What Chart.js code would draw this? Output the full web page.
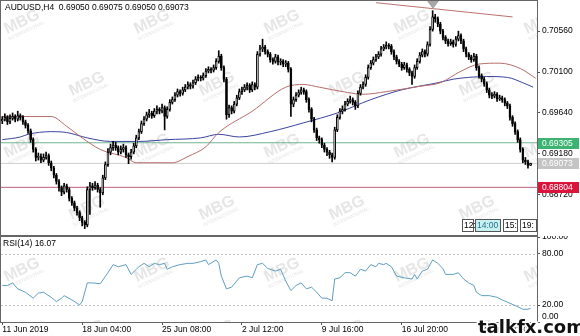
<!DOCTYPE html>
<html>
<head>
<meta charset="utf-8">
<script src="https://cdn.jsdelivr.net/npm/chart.js@4.4.0/dist/chart.umd.min.js"></script>
<style>
  html, body { margin: 0; padding: 0; background: #fff; }
  #wrap { position: relative; width: 580px; height: 336px; overflow: hidden; }
  canvas { position: absolute; left: 0; }
  #main { top: 0; }
  #rsi { top: 236px; }
</style>
</head>
<body>
<div id="wrap">
  <canvas id="main" width="580" height="236"></canvas>
  <canvas id="rsi" width="580" height="100"></canvas>
</div>
<script>
// AUDUSD H4 candles (bar 0 = 11 Jun 2019 00:00)
const symbol = "AUDUSD,H4";

const opens = [
  0.6955,0.6957,0.6959,0.6954,0.6958,0.6960,0.6957,0.6961,0.6959,0.6954,
  0.6950,0.6944,0.6934,0.6923,0.6914,0.6915,0.6911,0.6914,0.6916,0.6908,
  0.6902,0.6894,0.6887,0.6880,0.6875,0.6882,0.6878,0.6868,0.6863,0.6857,
  0.6852,0.6846,0.6841,0.6838,0.6878,0.6882,0.6880,0.6883,0.6878,0.6874,
  0.6891,0.6906,0.6920,0.6925,0.6928,0.6925,0.6920,0.6923,0.6925,0.6917,
  0.6915,0.6920,0.6927,0.6936,0.6943,0.6952,0.6957,0.6962,0.6964,0.6961,
  0.6966,0.6968,0.6966,0.6970,0.6960,0.6968,0.6976,0.6979,0.6984,0.6988,
  0.6986,0.6990,0.6993,0.6996,0.6994,0.6998,0.7002,0.7004,0.7003,0.7006,
  0.7011,0.7013,0.7012,0.7015,0.7022,0.7028,0.7015,0.7002,0.6962,0.6970,
  0.6966,0.6974,0.6981,0.6988,0.6990,0.6993,0.6995,0.6990,0.6996,0.6993,
  0.7030,0.7036,0.7038,0.7033,0.7030,0.7024,0.7022,0.7027,0.7021,0.7022,
  0.7019,0.7020,0.7013,0.6974,0.6979,0.6984,0.6987,0.6990,0.6988,0.6979,
  0.6968,0.6957,0.6945,0.6936,0.6934,0.6928,0.6923,0.6920,0.6917,0.6914,
  0.6945,0.6959,0.6966,0.6968,0.6974,0.6977,0.6979,0.6976,0.6972,0.6986,
  0.6993,0.6996,0.7004,0.7015,0.7020,0.7024,0.7027,0.7030,0.7036,0.7038,
  0.7040,0.7039,0.7033,0.7027,0.7022,0.7019,0.7015,0.7018,0.7013,0.7009,
  0.7005,0.7015,0.7022,0.7029,0.7033,0.7030,0.7041,0.7058,0.7072,0.7070,
  0.7064,0.7056,0.7049,0.7045,0.7042,0.7044,0.7041,0.7047,0.7051,0.7045,
  0.7036,0.7030,0.7027,0.7024,0.7028,0.7015,0.7006,0.7002,0.6997,0.6990,
  0.6984,0.6983,0.6985,0.6980,0.6981,0.6979,0.6975,0.6972,0.6959,0.6952,
  0.6943,0.6934,0.6923,0.6911,0.6909,0.69050
];
const highs = [
  0.6960,0.6963,0.6961,0.6962,0.6964,0.6962,0.6966,0.6963,0.6961,0.6956,
  0.6952,0.6946,0.6936,0.6925,0.6919,0.6918,0.6918,0.6920,0.6918,0.6910,
  0.6904,0.6896,0.6889,0.6882,0.6885,0.6884,0.6880,0.6870,0.6865,0.6859,
  0.6854,0.6848,0.6843,0.6881,0.6886,0.6885,0.6887,0.6885,0.6880,0.6894,
  0.6909,0.6924,0.6929,0.6932,0.6931,0.6927,0.6927,0.6929,0.6927,0.6919,
  0.6923,0.6930,0.6939,0.6946,0.6955,0.6960,0.6965,0.6968,0.6966,0.6969,
  0.6972,0.6970,0.6974,0.6972,0.6971,0.6979,0.6982,0.6987,0.6991,0.6990,
  0.6993,0.6996,0.6999,0.6998,0.7001,0.7005,0.7007,0.7006,0.7009,0.7014,
  0.7016,0.7015,0.7018,0.7025,0.7034,0.7030,0.7017,0.7004,0.6973,0.6972,
  0.6977,0.6984,0.6991,0.6993,0.6996,0.6998,0.6997,0.6999,0.6998,0.7033,
  0.7040,0.7047,0.7040,0.7035,0.7032,0.7026,0.7030,0.7029,0.7025,0.7024,
  0.7023,0.7022,0.7015,0.6982,0.6987,0.6990,0.6993,0.6992,0.6990,0.6981,
  0.6970,0.6959,0.6947,0.6938,0.6936,0.6930,0.6925,0.6922,0.6919,0.6948,
  0.6962,0.6969,0.6972,0.6977,0.6980,0.6983,0.6981,0.6978,0.6989,0.6996,
  0.6999,0.7007,0.7018,0.7023,0.7027,0.7030,0.7033,0.7039,0.7041,0.7044,
  0.7042,0.7041,0.7035,0.7029,0.7024,0.7021,0.7021,0.7020,0.7015,0.7011,
  0.7018,0.7025,0.7032,0.7036,0.7035,0.7044,0.7061,0.7079,0.7075,0.7072,
  0.7066,0.7058,0.7051,0.7047,0.7047,0.7046,0.7050,0.7056,0.7053,0.7047,
  0.7038,0.7032,0.7029,0.7031,0.7030,0.7017,0.7008,0.7004,0.6999,0.6992,
  0.6987,0.6988,0.6987,0.6984,0.6983,0.6981,0.6977,0.6974,0.6961,0.6954,
  0.6945,0.6936,0.6925,0.6914,0.6911,0.69075
];
const lows = [
  0.6952,0.6955,0.6951,0.6952,0.6956,0.6954,0.6955,0.6956,0.6951,0.6947,
  0.6941,0.6931,0.6920,0.6910,0.6911,0.6908,0.6909,0.6912,0.6905,0.6899,
  0.6891,0.6884,0.6876,0.6871,0.6873,0.6875,0.6865,0.6860,0.6854,0.6849,
  0.6843,0.6837,0.6834,0.6836,0.6850,0.6877,0.6878,0.6875,0.6858,0.6872,
  0.6889,0.6904,0.6917,0.6922,0.6922,0.6917,0.6918,0.6920,0.6914,0.6907,
  0.6912,0.6918,0.6925,0.6934,0.6941,0.6950,0.6955,0.6959,0.6958,0.6959,
  0.6963,0.6963,0.6964,0.6945,0.6958,0.6966,0.6974,0.6977,0.6982,0.6983,
  0.6984,0.6988,0.6991,0.6991,0.6992,0.6996,0.7000,0.7000,0.7001,0.7004,
  0.7009,0.7009,0.7010,0.7013,0.7020,0.7012,0.6999,0.6957,0.6959,0.6963,
  0.6964,0.6972,0.6979,0.6985,0.6988,0.6990,0.6987,0.6988,0.6990,0.6991,
  0.7028,0.7033,0.7030,0.7027,0.7021,0.7019,0.7020,0.7018,0.7018,0.7016,
  0.7016,0.7010,0.6960,0.6971,0.6977,0.6982,0.6985,0.6985,0.6976,0.6965,
  0.6954,0.6942,0.6933,0.6930,0.6925,0.6920,0.6916,0.6913,0.6909,0.6912,
  0.6943,0.6957,0.6963,0.6966,0.6972,0.6975,0.6973,0.6968,0.6970,0.6984,
  0.6991,0.6994,0.7002,0.7013,0.7018,0.7022,0.7025,0.7028,0.7034,0.7036,
  0.7036,0.7030,0.7024,0.7019,0.7016,0.7012,0.7013,0.7010,0.7006,0.6996,
  0.7003,0.7013,0.7020,0.7027,0.7027,0.7028,0.7039,0.7056,0.7066,0.7061,
  0.7053,0.7046,0.7042,0.7039,0.7040,0.7038,0.7039,0.7045,0.7042,0.7033,
  0.7027,0.7024,0.7021,0.7022,0.7012,0.7003,0.6999,0.6994,0.6987,0.6981,
  0.6980,0.6981,0.6977,0.6978,0.6976,0.6972,0.6969,0.6956,0.6949,0.6940,
  0.6931,0.6920,0.6908,0.6906,0.6902,0.69050
];
const closes = [
  0.6957,0.6959,0.6954,0.6958,0.6960,0.6957,0.6961,0.6959,0.6954,0.6950,
  0.6944,0.6934,0.6923,0.6914,0.6915,0.6911,0.6914,0.6916,0.6908,0.6902,
  0.6894,0.6887,0.6880,0.6875,0.6882,0.6878,0.6868,0.6863,0.6857,0.6852,
  0.6846,0.6841,0.6838,0.6878,0.6882,0.6880,0.6883,0.6878,0.6874,0.6891,
  0.6906,0.6920,0.6925,0.6928,0.6925,0.6920,0.6923,0.6925,0.6917,0.6915,
  0.6920,0.6927,0.6936,0.6943,0.6952,0.6957,0.6962,0.6964,0.6961,0.6966,
  0.6968,0.6966,0.6970,0.6960,0.6968,0.6976,0.6979,0.6984,0.6988,0.6986,
  0.6990,0.6993,0.6996,0.6994,0.6998,0.7002,0.7004,0.7003,0.7006,0.7011,
  0.7013,0.7012,0.7015,0.7022,0.7028,0.7015,0.7002,0.6962,0.6970,0.6966,
  0.6974,0.6981,0.6988,0.6990,0.6993,0.6995,0.6990,0.6996,0.6993,0.7030,
  0.7036,0.7038,0.7033,0.7030,0.7024,0.7022,0.7027,0.7021,0.7022,0.7019,
  0.7020,0.7013,0.6974,0.6979,0.6984,0.6987,0.6990,0.6988,0.6979,0.6968,
  0.6957,0.6945,0.6936,0.6934,0.6928,0.6923,0.6920,0.6917,0.6914,0.6945,
  0.6959,0.6966,0.6968,0.6974,0.6977,0.6979,0.6976,0.6972,0.6986,0.6993,
  0.6996,0.7004,0.7015,0.7020,0.7024,0.7027,0.7030,0.7036,0.7038,0.7040,
  0.7039,0.7033,0.7027,0.7022,0.7019,0.7015,0.7018,0.7013,0.7009,0.7005,
  0.7015,0.7022,0.7029,0.7033,0.7030,0.7041,0.7058,0.7072,0.7070,0.7064,
  0.7056,0.7049,0.7045,0.7042,0.7044,0.7041,0.7047,0.7051,0.7045,0.7036,
  0.7030,0.7027,0.7024,0.7028,0.7015,0.7006,0.7002,0.6997,0.6990,0.6984,
  0.6983,0.6985,0.6980,0.6981,0.6979,0.6975,0.6972,0.6959,0.6952,0.6943,
  0.6934,0.6923,0.6911,0.6909,0.6905,0.69073
];

// moving averages (sampled along the curves)
const maRedBars = [0,19,25,31,38,48,52,66,72,79,84,97,110,117,123,134,140,149,162,170,178,185,193,201,207];
const maRed = [0.6960,0.6960,0.6949,0.6936,0.6923,0.6914,0.6908,0.6908,0.6915,0.6926,0.6942,0.6966,0.6993,0.6996,0.6993,0.6987,0.6985,0.6988,0.6994,0.6998,0.7011,0.7019,0.7020,0.7014,0.7003];
const maBlueBars = [0,7,10,19,25,33,42,53,64,77,84,92,104,117,130,143,155,169,175,181,188,196,202,206];
const maBlue = [0.6934,0.6937,0.6940,0.6943,0.6942,0.6936,0.6932,0.6932,0.6934,0.6936,0.6940,0.6937,0.6943,0.6953,0.6964,0.6979,0.6990,0.6998,0.7002,0.7004,0.7005,0.7004,0.6998,0.6993];

// trendline and horizontal levels
const trendBars = [145, 198];
const trendPrices = [0.7088, 0.7072];
const levelGreen = 0.69305;
const levelRed = 0.68804;

// RSI(14)
const rsiBars = [0,2,4,6,9,12,14,16,19,21,23,24,27,30,31,33,35,38,41,43,45,48,50,52,53,55,57,59,61,63,64,66,69,72,74,77,79,80,83,84,85,87,89,92,95,97,99,101,103,106,108,110,112,114,116,118,120,122,124,126,128,129,131,133,135,137,139,141,143,145,146,148,149,151,153,156,159,160,161,163,165,167,169,171,172,175,177,179,181,183,184,186,189,192,194,197,200,202,204,205];
const rsiValues = [43,43,46,39,35,28,34,35,29,24,28,31,26,20,24,46,46,45,58,67.5,65,67.5,56,62,65,69,65,69,67.5,69,62,65,67.5,69,69,71,73,67.5,73,69,54,39,41,52,54,52,67.5,69,63,60,62,48,37,43,46,39,41,35,28,28,25,50.6,52,58,58,54,62,60,67.5,65,69,67.5,69,65,54,52,50.6,56,50.6,60,62,73,69,63,56,56,58,50.6,46,43,35,31,31,29,26,22,18,15,15,16.07];
const rsiLevels = [80, 20];

// axis ticks
const priceTicks = [0.70560, 0.70100, 0.69640, 0.69180, 0.68720];
const rsiTicks = [100, 80, 20, 0];
const timeTickBars = [0, 31, 62, 93, 124, 155, 186];
const timeTickLabels = ["11 Jun 2019", "18 Jun 04:00", "25 Jun 08:00", "2 Jul 12:00", "9 Jul 16:00", "16 Jul 20:00", "24 Jul 00:00"];

const FONT = "'Liberation Sans', Arial, sans-serif";
Chart.defaults.font.family = FONT;
Chart.defaults.font.size = 8.5;
Chart.defaults.color = "#000";

const last = closes.length - 1;
const barIdx = closes.map((c, i) => i);
const X_MIN = -0.5, X_MAX = 207.5;

function pts(xs, ys) { return xs.map((x, k) => ({ x: x, y: ys[k] })); }

// faint "MBG" watermarks
function drawMarks(ctx, area, offsetY) {
  ctx.save();
  ctx.beginPath();
  ctx.rect(area.left, area.top, area.right - area.left, area.bottom - area.top);
  ctx.clip();
  ctx.fillStyle = "#e6e6e6";
  ctx.textAlign = "center";
  ctx.textBaseline = "middle";
  for (let r = 0; r < 6; r++) {
    for (let k = 0; k < 6; k++) {
      const x = 22 + (r % 2) * 65 + k * 130;
      const y = 22 + r * 62 - offsetY;
      ctx.save();
      ctx.translate(x, y);
      ctx.rotate(-0.45);
      ctx.font = "bold 16px " + FONT;
      ctx.fillText("MBG", 0, 0);
      ctx.font = "5px " + FONT;
      ctx.fillText("INTERNATIONAL", 0, 10);
      ctx.restore();
    }
  }
  ctx.restore();
}

function frame(ctx, a) {
  ctx.save();
  ctx.strokeStyle = "#666";
  ctx.lineWidth = 1;
  ctx.strokeRect(a.left - 0.5, a.top - 0.5, a.right - a.left + 1, a.bottom - a.top + 1);
  ctx.restore();
}

const mainDecor = {
  id: "mainDecor",
  beforeDraw(chart) {
    const ctx = chart.ctx;
    ctx.save();
    ctx.fillStyle = "#fff";
    ctx.fillRect(0, 0, chart.width, chart.height);
    ctx.restore();
  },
  beforeDatasetsDraw(chart) {
    drawMarks(chart.ctx, chart.chartArea, 0);
  },
  afterDraw(chart) {
    const ctx = chart.ctx, a = chart.chartArea, ys = chart.scales.y;
    frame(ctx, a);
    ctx.save();
    // shift marker
    ctx.fillStyle = "#a8a8a8";
    ctx.beginPath();
    ctx.moveTo(427, 1); ctx.lineTo(439, 1); ctx.lineTo(433, 9); ctx.closePath();
    ctx.fill();
    // header
    ctx.fillStyle = "#000";
    ctx.font = "8.5px " + FONT;
    ctx.textAlign = "left";
    ctx.textBaseline = "middle";
    const ohlc = [opens[last], highs[last], lows[last], closes[last]].map(v => v.toFixed(5)).join(" ");
    ctx.fillText(symbol + "  " + ohlc, 5, 8);
    // price tags on the right scale
    const tags = [
      { v: levelGreen, bg: "#3cb371" },
      { v: closes[last], bg: "#c4c4c4" },
      { v: levelRed, bg: "#dc143c" }
    ];
    tags.forEach(t => {
      const y = Math.round(ys.getPixelForValue(t.v));
      ctx.fillStyle = t.bg;
      ctx.fillRect(538, y - 5, 41, 11);
      ctx.fillStyle = "#fff";
      ctx.fillText(t.v.toFixed(5), 542, y + 0.5);
    });
    // time scale boxes
    const boxes = [
      { x: 462, w: 12, t: "12:" },
      { x: 475, w: 26, t: "14:00", hi: true },
      { x: 503, w: 15, t: "15:" },
      { x: 520, w: 17, t: "19:" }
    ];
    boxes.forEach(b => {
      ctx.fillStyle = b.hi ? "#c6f1f1" : "#fff";
      ctx.fillRect(b.x, 219, b.w, 13);
      ctx.strokeStyle = "#555";
      ctx.strokeRect(b.x + 0.5, 219.5, b.w - 1, 12);
      ctx.fillStyle = b.hi ? "#2a6f8f" : "#000";
      ctx.fillText(b.t, b.x + 2, 226);
    });
    ctx.restore();
  }
};

const rsiDecor = {
  id: "rsiDecor",
  beforeDraw(chart) {
    const ctx = chart.ctx;
    ctx.save();
    ctx.fillStyle = "#fff";
    ctx.fillRect(0, 0, chart.width, chart.height);
    ctx.restore();
  },
  beforeDatasetsDraw(chart) {
    const ctx = chart.ctx, a = chart.chartArea, ys = chart.scales.y;
    drawMarks(ctx, a, 236);
    ctx.save();
    ctx.strokeStyle = "#c0c0c0";
    ctx.setLineDash([2, 2]);
    rsiLevels.forEach(v => {
      const y = Math.round(ys.getPixelForValue(v)) + 0.5;
      ctx.beginPath();
      ctx.moveTo(a.left, y);
      ctx.lineTo(a.right, y);
      ctx.stroke();
    });
    ctx.restore();
  },
  afterDraw(chart) {
    const ctx = chart.ctx, a = chart.chartArea, ys = chart.scales.y;
    frame(ctx, a);
    ctx.save();
    ctx.fillStyle = "#000";
    ctx.font = "8.5px " + FONT;
    ctx.textAlign = "left";
    ctx.textBaseline = "middle";
    ctx.fillText("RSI(14) " + rsiValues[rsiValues.length - 1].toFixed(2), 3, 8);
    ctx.fillText((0).toFixed(2), 542, ys.getPixelForValue(0) - 5);
    // site stamp
    ctx.font = "bold 18px 'DejaVu Sans', sans-serif";
    ctx.textBaseline = "alphabetic";
    ctx.lineWidth = 3;
    ctx.strokeStyle = "#fff";
    ctx.strokeText("talkfx.com", 478, 97);
    ctx.fillStyle = "#111";
    ctx.fillText("talkfx.com", 478, 97);
    ctx.restore();
  }
};

new Chart(document.getElementById("main"), {
  type: "bar",
  data: {
    datasets: [
      {
        type: "bar",
        data: barIdx.map(i => ({ x: i, y: [opens[i], closes[i]] })),
        backgroundColor: barIdx.map(i => closes[i] >= opens[i] ? "#fff" : "#000"),
        borderColor: "#000",
        borderWidth: 1,
        borderSkipped: false,
        barThickness: 2,
        minBarLength: 1,
        grouped: false,
        order: 1
      },
      {
        type: "bar",
        data: barIdx.map(i => ({ x: i, y: [lows[i], highs[i]] })),
        backgroundColor: "#000",
        barThickness: 1,
        grouped: false,
        order: 2
      },
      {
        type: "line",
        data: pts(maRedBars, maRed),
        borderColor: "#b86c6c",
        borderWidth: 1,
        pointRadius: 0,
        cubicInterpolationMode: "monotone",
        order: 4
      },
      {
        type: "line",
        data: pts(maBlueBars, maBlue),
        borderColor: "#3a44a0",
        borderWidth: 1,
        pointRadius: 0,
        cubicInterpolationMode: "monotone",
        order: 4
      },
      {
        type: "line",
        data: pts(trendBars, trendPrices),
        borderColor: "#c07070",
        borderWidth: 1,
        pointRadius: 0,
        order: 4
      },
      {
        type: "line",
        data: pts([X_MIN, X_MAX], [levelGreen, levelGreen]),
        borderColor: "#6fb594",
        borderWidth: 1,
        pointRadius: 0,
        order: 5
      },
      {
        type: "line",
        data: pts([X_MIN, X_MAX], [closes[last], closes[last]]),
        borderColor: "#cfcfcf",
        borderWidth: 1,
        pointRadius: 0,
        order: 5
      },
      {
        type: "line",
        data: pts([X_MIN, X_MAX], [levelRed, levelRed]),
        borderColor: "#c0607a",
        borderWidth: 1,
        pointRadius: 0,
        order: 5
      }
    ]
  },
  options: {
    responsive: false,
    animation: false,
    events: [],
    devicePixelRatio: 1,
    layout: { padding: { left: 1, top: 1, bottom: 1, right: 0 } },
    plugins: { legend: { display: false }, tooltip: { enabled: false } },
    scales: {
      x: { type: "linear", min: X_MIN, max: X_MAX, offset: false, display: false, grid: { offset: false } },
      y: {
        position: "right",
        min: 0.68268,
        max: 0.70899,
        afterFit(s) { s.width = 43; s.paddingTop = 0; s.paddingBottom = 0; },
        afterBuildTicks(s) { s.ticks = priceTicks.map(v => ({ value: v })); },
        ticks: { callback: v => v.toFixed(5), padding: 2, color: "#000" },
        grid: { drawOnChartArea: false, tickLength: 3, color: "#555" },
        border: { display: false }
      }
    }
  },
  plugins: [mainDecor]
});

new Chart(document.getElementById("rsi"), {
  type: "line",
  data: {
    datasets: [{
      data: pts(rsiBars, rsiValues),
      borderColor: "#5f9fc0",
      borderWidth: 1,
      pointRadius: 0,
      tension: 0
    }]
  },
  options: {
    responsive: false,
    animation: false,
    events: [],
    devicePixelRatio: 1,
    layout: { padding: { left: 1, top: 1, bottom: 0, right: 0 } },
    plugins: { legend: { display: false }, tooltip: { enabled: false } },
    scales: {
      x: {
        type: "linear",
        min: X_MIN,
        max: X_MAX,
        offset: false,
        afterFit(s) { s.height = 14; s.paddingLeft = 0; s.paddingRight = 0; },
        afterBuildTicks(s) { s.ticks = timeTickBars.map(v => ({ value: v })); },
        ticks: {
          autoSkip: false,
          maxRotation: 0,
          align: "start",
          padding: 0,
          color: "#000",
          callback: (v, i) => timeTickLabels[i]
        },
        grid: { drawOnChartArea: false, tickLength: 3, color: "#555" },
        border: { display: false }
      },
      y: {
        position: "right",
        min: 0,
        max: 100,
        afterFit(s) { s.width = 43; s.paddingTop = 0; s.paddingBottom = 0; },
        afterBuildTicks(s) { s.ticks = rsiTicks.map(v => ({ value: v })); },
        ticks: { callback: v => v === 0 ? "" : v.toFixed(2), padding: 2, color: "#000" },
        grid: { drawOnChartArea: false, tickLength: 3, color: "#555" },
        border: { display: false }
      }
    }
  },
  plugins: [rsiDecor]
});
</script>
</body>
</html>
